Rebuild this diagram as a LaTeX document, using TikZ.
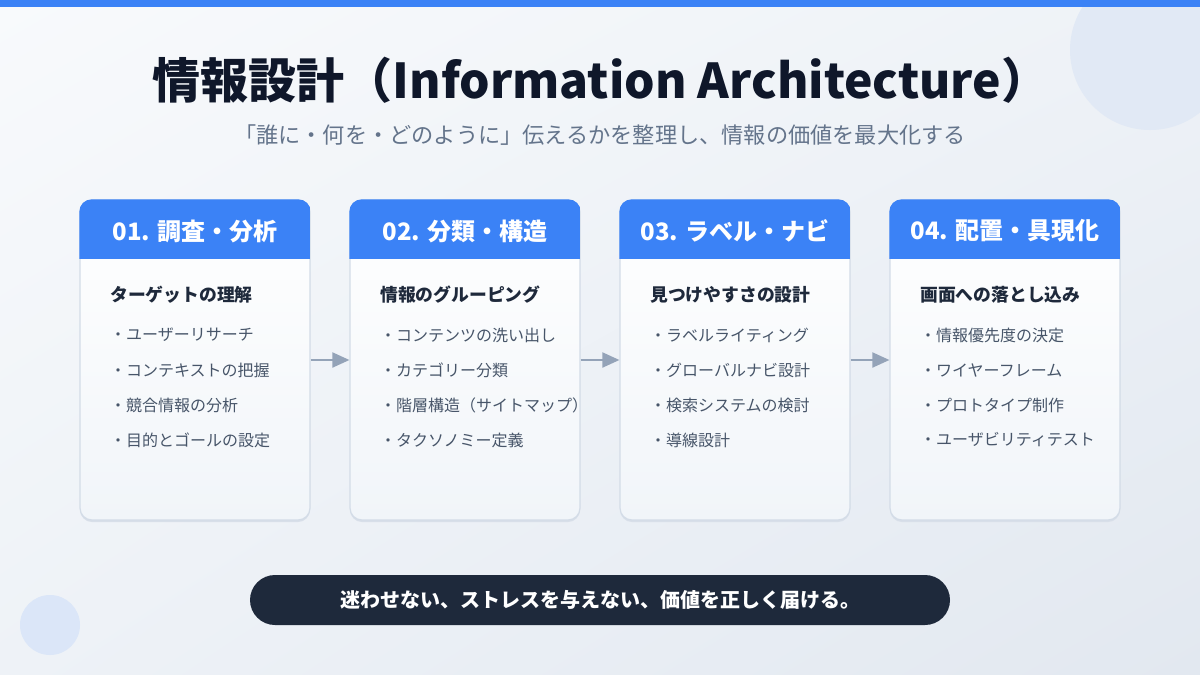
\documentclass[tikz,border=0pt]{standalone}
\usepackage{fontspec}
\setmainfont{Noto Sans CJK JP}
\usetikzlibrary{arrows.meta,shadings}
\definecolor{hdblue}{HTML}{3B82F6}
\definecolor{bgtl}{HTML}{F8FAFC}
\definecolor{bgmid}{HTML}{EEF2F7}
\definecolor{bgbr}{HTML}{E2E8F0}
\definecolor{titlec}{HTML}{0F172A}
\definecolor{subc}{HTML}{64748B}
\definecolor{headc}{HTML}{1E293B}
\definecolor{itmc}{HTML}{475569}
\definecolor{cardline}{HTML}{D3DCE7}
\definecolor{cardbot}{HTML}{F1F5F9}
\definecolor{shadowc}{HTML}{D8DFE9}
\definecolor{arrowc}{HTML}{94A3B8}
\definecolor{pillc}{HTML}{1E293B}
\definecolor{circa}{HTML}{E1E9F5}
\definecolor{circb}{HTML}{DBE6F8}
\begin{document}
\begin{tikzpicture}[x=1pt,y=-1pt,
  card/.style={draw=cardline, line width=1.2pt, rounded corners=12pt, minimum width=230pt, minimum height=320pt, inner sep=0pt, top color=white, bottom color=cardbot},
  hdtext/.style={text=white, font=\fontsize{24}{28}\selectfont\bfseries, inner sep=0pt},
  subtext/.style={anchor=west, text=headc, font=\fontsize{17.8}{22}\selectfont\bfseries, inner sep=0pt},
  itmtext/.style={anchor=west, text=itmc, font=\fontsize{16}{20}\selectfont, inner sep=0pt},
  flow/.style={draw=arrowc, line width=2pt, -{Triangle[length=17pt,width=15pt]}}]
\useasboundingbox (0,0) rectangle (1200,675);
\shade[upper left=bgtl, upper right=bgmid, lower left=bgmid, lower right=bgbr] (0,0) rectangle (1200,675);
\fill[circa] (1150,50) circle[radius=80pt];
\fill[hdblue] (0,0) rectangle (1200,7);
\fill[circb] (50,625) circle[radius=30pt];
% title
\node[text=titlec, font=\fontsize{48}{54}\selectfont\bfseries, inner sep=0pt] (ttl) at (601,80) {情報設計（Information Architecture）};
\node[text=subc, font=\fontsize{22.2}{26}\selectfont, inner sep=0pt] (subttl) at (600,135) {「誰に・何を・どのように」伝えるかを整理し、情報の価値を最大化する};
% shadows
\fill[shadowc, rounded corners=12pt] (80,202) rectangle (310,522);
\fill[shadowc, rounded corners=12pt] (350,202) rectangle (580,522);
\fill[shadowc, rounded corners=12pt] (620,202) rectangle (850,522);
\fill[shadowc, rounded corners=12pt] (890,202) rectangle (1120,522);
% card 1
\node[card] (crd1) at (195,360) {};
\begin{scope}
\clip[rounded corners=12pt] (crd1.north west) rectangle (crd1.south east);
\fill[hdblue] (crd1.north west) rectangle ([yshift=-60pt]crd1.north east);
\end{scope}
\node[hdtext] (hdr1) at (195,231) {01. 調査・分析};
\node[subtext] (sub1) at (110,294.5) {ターゲットの理解};
\node[itmtext] (itm11) at (110,335) {・ユーザーリサーチ};
\node[itmtext] (itm12) at (110,370) {・コンテキストの把握};
\node[itmtext] (itm13) at (110,405) {・競合情報の分析};
\node[itmtext] (itm14) at (110,440) {・目的とゴールの設定};
% card 2
\node[card] (crd2) at (465,360) {};
\begin{scope}
\clip[rounded corners=12pt] (crd2.north west) rectangle (crd2.south east);
\fill[hdblue] (crd2.north west) rectangle ([yshift=-60pt]crd2.north east);
\end{scope}
\node[hdtext] (hdr2) at (465,231) {02. 分類・構造};
\node[subtext] (sub2) at (380,294.5) {情報のグルーピング};
\node[itmtext] (itm21) at (380,335) {・コンテンツの洗い出し};
\node[itmtext] (itm22) at (380,370) {・カテゴリー分類};
\node[itmtext] (itm23) at (380,405) {・階層構造（サイトマップ）};
\node[itmtext] (itm24) at (380,440) {・タクソノミー定義};
% card 3
\node[card] (crd3) at (735,360) {};
\begin{scope}
\clip[rounded corners=12pt] (crd3.north west) rectangle (crd3.south east);
\fill[hdblue] (crd3.north west) rectangle ([yshift=-60pt]crd3.north east);
\end{scope}
\node[hdtext] (hdr3) at (735,231) {03. ラベル・ナビ};
\node[subtext] (sub3) at (650,294.5) {見つけやすさの設計};
\node[itmtext] (itm31) at (650,335) {・ラベルライティング};
\node[itmtext] (itm32) at (650,370) {・グローバルナビ設計};
\node[itmtext] (itm33) at (650,405) {・検索システムの検討};
\node[itmtext] (itm34) at (650,440) {・導線設計};
% card 4
\node[card] (crd4) at (1005,360) {};
\begin{scope}
\clip[rounded corners=12pt] (crd4.north west) rectangle (crd4.south east);
\fill[hdblue] (crd4.north west) rectangle ([yshift=-60pt]crd4.north east);
\end{scope}
\node[hdtext] (hdr4) at (1005,231) {04. 配置・具現化};
\node[subtext] (sub4) at (920,294.5) {画面への落とし込み};
\node[itmtext] (itm41) at (920,335) {・情報優先度の決定};
\node[itmtext] (itm42) at (920,370) {・ワイヤーフレーム};
\node[itmtext] (itm43) at (920,405) {・プロトタイプ制作};
\node[itmtext] (itm44) at (920,440) {・ユーザビリティテスト};
% arrows
\draw[flow] (crd1.east) -- (crd2.west);
\draw[flow] (crd2.east) -- (crd3.west);
\draw[flow] (crd3.east) -- (crd4.west);
% message
\node[fill=pillc, rounded corners=25pt, minimum width=700pt, minimum height=50pt, inner sep=0pt, text=white, font=\fontsize{20}{24}\selectfont\bfseries] (msg) at (600,600) {迷わせない、ストレスを与えない、価値を正しく届ける。};
\end{tikzpicture}
\end{document}
